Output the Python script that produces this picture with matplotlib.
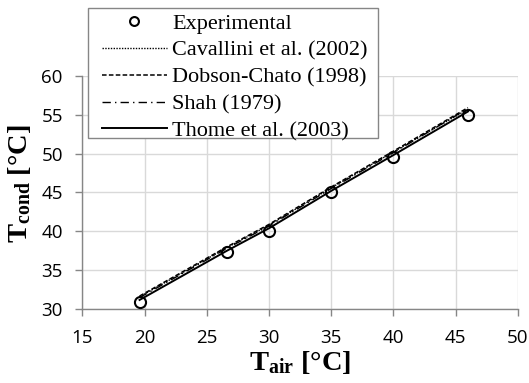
import matplotlib
matplotlib.use("Agg")
import matplotlib.pyplot as plt
from matplotlib.patches import Rectangle

# Data
t_air = [19.6, 26.6, 30.0, 35.0, 40.0, 46.0]
exp_tcond = [31.0, 37.4, 40.1, 45.0, 49.5, 55.0]
cavallini = [31.6, 37.9, 40.8, 45.6, 50.2, 55.7]
dobson = [31.7, 38.0, 40.9, 45.7, 50.3, 55.9]
shah = [31.5, 37.8, 40.7, 45.5, 50.1, 55.8]
thome = [31.2, 37.5, 40.4, 45.2, 49.8, 55.4]

xticks = [15, 20, 25, 30, 35, 40, 45, 50]
yticks = [30, 35, 40, 45, 50, 55, 60]

plt.rcParams['mathtext.fontset'] = 'custom'
plt.rcParams['mathtext.rm'] = 'Liberation Serif'
plt.rcParams['mathtext.bf'] = 'Liberation Serif:bold'
plt.rcParams['mathtext.it'] = 'Liberation Serif:italic'

fig = plt.figure(figsize=(5.29, 3.83), dpi=100)
ax = fig.add_axes([0.1556, 0.1924, 0.8231, 0.61])

gray = '#868686'
ax.plot(t_air, exp_tcond, linestyle='none', marker='o', markersize=8,
        markerfacecolor='none', markeredgecolor='black', markeredgewidth=1.5,
        label='Experimental', zorder=5)
ax.plot(t_air, cavallini, color='black', linestyle=(0, (1, 1)), linewidth=1.0,
        label='Cavallini et al. (2002)')
ax.plot(t_air, dobson, color='black', linestyle=(0, (3.0, 1.5)), linewidth=1.1,
        label='Dobson-Chato (1998)')
ax.plot(t_air, shah, color='black', linestyle=(0, (6, 3, 1, 3)), linewidth=1.0,
        label='Shah (1979)')
ax.plot(t_air, thome, color='black', linestyle='-', linewidth=1.4,
        label='Thome et al. (2003)')

ax.set_xlim(15, 50)
ax.set_ylim(30, 60)
ax.set_xticks(xticks)
ax.set_yticks(yticks)
ax.grid(True, color='#d9d9d9', linewidth=1.0)
ax.set_axisbelow(True)
for s in ['top', 'right']:
    ax.spines[s].set_visible(False)
for s in ['left', 'bottom']:
    ax.spines[s].set_color(gray)
    ax.spines[s].set_linewidth(1.0)
ax.tick_params(axis='both', direction='out', length=5, width=1.0, color=gray,
               labelsize=13.5, labelcolor='#000000')
ax.tick_params(axis='y', pad=9)
ax.tick_params(axis='x', pad=9)
for lab in ax.get_xticklabels() + ax.get_yticklabels():
    lab.set_family('Open Sans')

ax.set_xlabel(r'$\mathbf{T_{air}\ [°C]}$', fontsize=20.5, labelpad=1)
ax.set_ylabel(r'$\mathbf{T_{cond}\ [°C]}$', fontsize=20.5, labelpad=0)
ax.yaxis.set_label_coords(-0.113, 0.536)

# legend frame (drawn separately so the inner padding matches)
frame = Rectangle((0.1669, 0.6389), 0.5471, 0.3394, transform=fig.transFigure,
                  facecolor='white', edgecolor=gray, linewidth=1.0, zorder=9,
                  clip_on=False)
ax.add_patch(frame)

leg = ax.legend(loc='upper left', bbox_to_anchor=(101.7 / 529, 1 - 13.5 / 383),
                bbox_transform=fig.transFigure, borderaxespad=0,
                prop={'family': 'Liberation Serif', 'size': 16},
                handlelength=2.93, handletextpad=0.25, labelspacing=0.28,
                borderpad=0.0, frameon=False,
                numpoints=1, markerscale=0.8)
leg.set_zorder(10)

fig.savefig('out.png', dpi=100)
